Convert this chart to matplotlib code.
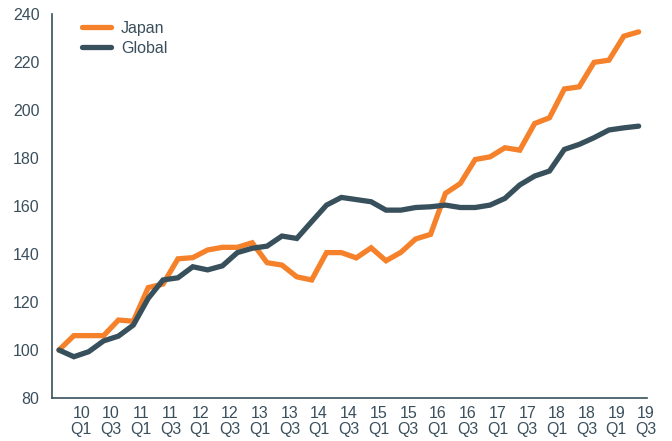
import numpy as np
import matplotlib.pyplot as plt

plt.rcParams['font.family'] = ['Liberation Sans', 'DejaVu Sans']

# quarterly index, start = 100
japan = [100, 106, 106, 106, 112.5, 112, 126, 127.5, 138, 138.5,
         141.7, 142.8, 142.8, 144.7, 136.4, 135.4, 130.5, 129.2, 140.6, 140.6,
         138.4, 142.6, 137.2, 140.7, 146.3, 148.2, 165.3, 169.4, 179.4, 180.5,
         184.3, 183.3, 194.4, 196.8, 208.8, 209.7, 219.9, 220.8, 230.8, 232.6]
glob = [100, 97.2, 99.3, 103.8, 105.8, 110.4, 121.5, 129.2, 130.1, 134.7,
        133.4, 135.1, 140.6, 142.4, 143.3, 147.5, 146.5, 153.5, 160.4, 163.6,
        162.7, 161.8, 158.3, 158.3, 159.4, 159.7, 160.4, 159.4, 159.4, 160.4,
        163.2, 168.8, 172.5, 174.6, 183.6, 185.7, 188.5, 191.7, 192.6, 193.3]
tick_labels = ["10\nQ1", "10\nQ3", "11\nQ1", "11\nQ3", "12\nQ1", "12\nQ3",
               "13\nQ1", "13\nQ3", "14\nQ1", "14\nQ3", "15\nQ1", "15\nQ3",
               "16\nQ1", "16\nQ3", "17\nQ1", "17\nQ3", "18\nQ1", "18\nQ3",
               "19\nQ1", "19\nQ3"]

orange = "#F5822A"
slate = "#37505C"
txt = "#3A4F5C"

x = np.arange(len(japan))

fig = plt.figure(figsize=(6.72, 4.41), dpi=100)
ax = fig.add_axes([0.0774, 0.0975, 0.963 - 0.0774, 0.968 - 0.0975])

ax.plot(x, japan, color=orange, lw=3.8, solid_joinstyle="miter", solid_capstyle="round", label="Japan")
ax.plot(x, glob, color=slate, lw=3.8, solid_joinstyle="miter", solid_capstyle="round", label="Global")

ax.set_xlim(-0.47, 39.57)
ax.set_ylim(80, 240)
ax.set_yticks(range(80, 241, 20))
ax.set_xticks(np.arange(len(tick_labels)) * 2 + 1.5)
ax.set_xticklabels(tick_labels, linespacing=1.05)

ax.tick_params(axis="both", length=0, labelsize=11.5, colors=txt)
ax.tick_params(axis="y", pad=9)
ax.tick_params(axis="x", pad=6)

for s in ["top", "right"]:
    ax.spines[s].set_visible(False)
for s in ["left", "bottom"]:
    ax.spines[s].set_color(slate)
    ax.spines[s].set_linewidth(1.2)

leg = ax.legend(loc="upper left", bbox_to_anchor=(0.027, 1.02), frameon=False,
                fontsize=11.5, handlelength=1.8, handletextpad=0.6, labelspacing=0.3)
for t in leg.get_texts():
    t.set_color(txt)

fig.savefig("out.png", dpi=100)
